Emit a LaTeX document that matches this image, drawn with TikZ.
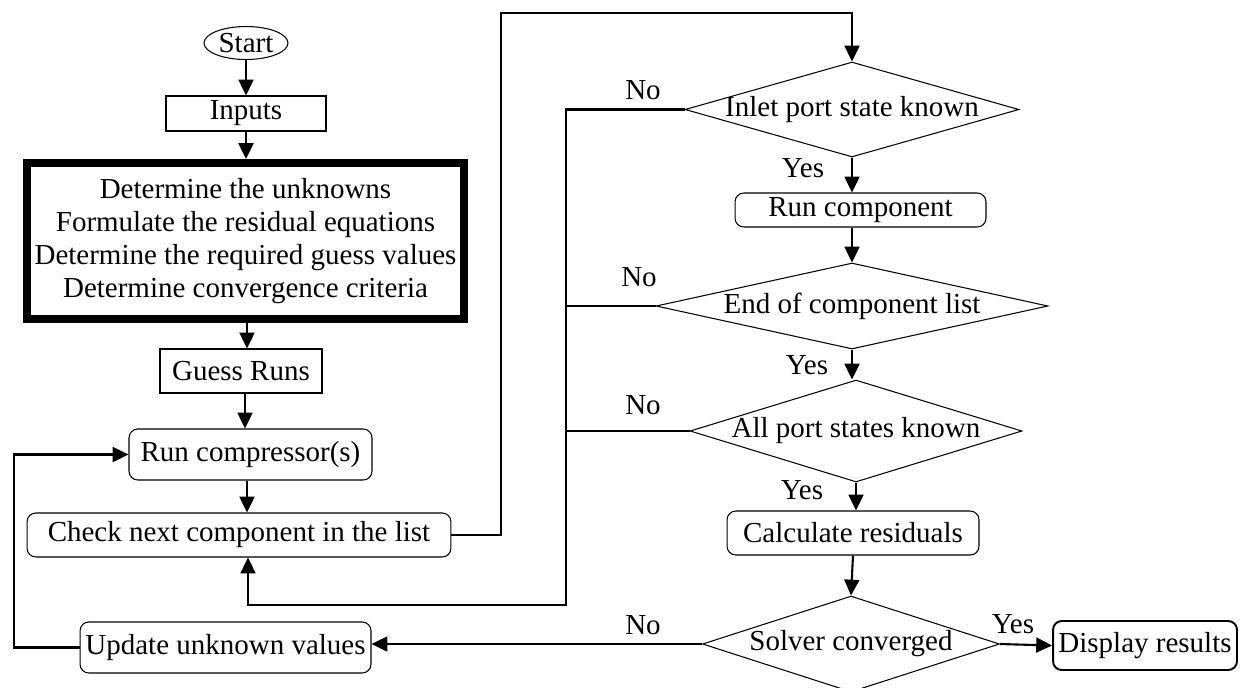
\documentclass[tikz,border=0pt]{standalone}
\usepackage{fontspec}
\setmainfont{Liberation Serif}
\usetikzlibrary{shapes.geometric,arrows.meta}

\newcommand{\dtext}[1]{\makebox[0pt]{#1}}

\begin{document}
\begin{tikzpicture}[x=0.02cm,y=-0.02cm,line width=1.2pt,
    font=\fontsize{16.5}{18.7}\selectfont,
    >={Triangle[length=9pt,width=8.5pt]},
    box/.style={draw,line width=0.6pt,inner sep=0pt},
    rbox/.style={box,rounded corners=5pt},
    dia/.style={box,diamond}]
    \useasboundingbox (0,0) rectangle (1243,687);

    % Define the positions of the nodes
    \node[box,ellipse,minimum width=1.68cm,minimum height=0.66cm] (start) at (246,43) {Start};
    \node[box,minimum width=3.2cm,minimum height=0.7cm] (inputs) at (246,113.5) {Inputs};
    \node[draw,line width=0.16cm,minimum width=8.74cm,minimum height=3.12cm,align=center] (prep) at (245.5,241)
        {Determine the unknowns\\Formulate the residual equations\\Determine the required guess values\\Determine convergence criteria};
    \node[box,minimum width=3.24cm,minimum height=0.88cm] (guess) at (241,371) {Guess Runs};
    \node[rbox,minimum width=4.86cm,minimum height=1.02cm] (compr) at (250.5,454.5) {Run compressor(s)};
    \node[rbox,minimum width=8.48cm,minimum height=0.88cm] (check) at (239,535) {Check next component in the list};
    \node[rbox,minimum width=5.82cm,minimum height=1.02cm] (update) at (225.5,647.5) {Update unknown values};

    \node[dia,minimum width=6.68cm,minimum height=1.9cm] (inlet) at (852,109.5) {\dtext{Inlet port state known}};
    \node[rbox,minimum width=5.02cm,minimum height=0.68cm] (runcomp) at (860.5,210) {Run component};
    \node[dia,minimum width=7.84cm,minimum height=1.72cm] (endlist) at (852,306) {\dtext{End of component list}};
    \node[dia,minimum width=6.64cm,minimum height=2.04cm] (allports) at (856,431) {\dtext{All port states known}};
    \node[rbox,minimum width=5.04cm,minimum height=0.88cm] (calc) at (853,533) {Calculate residuals};
    \node[dia,minimum width=5.94cm,minimum height=1.92cm] (solver) at (851,644) {\dtext{Solver converged}};
    \node[rbox,line width=1.1pt,minimum width=3.68cm,minimum height=0.98cm] (display) at (1145,645.5) {Display results};

    \node (no1) at (643,90) {No};
    \node (yes1) at (803,168) {Yes};
    \node (no2) at (639,277) {No};
    \node (yes2) at (807,365) {Yes};
    \node (no3) at (643,405) {No};
    \node (yes3) at (802,490) {Yes};
    \node (no4) at (643,625) {No};
    \node (yes4) at (1013,624) {Yes};

    \coordinate (looptop) at (501,13);
    \coordinate (collbot) at (566,605);
    \coordinate (loopleft) at (14,454.5);

    % Draw the edges
    \draw[->] (start.south) -- (start.south |- inputs.north);
    \draw[->] (inputs.south) -- (inputs.south |- prep.north);
    \draw[->] ([xshift=0.03cm]prep.south) -- ([xshift=0.03cm]prep.south |- guess.north);
    \draw[->] ([xshift=0.08cm]guess.south) -- ([xshift=0.08cm]guess.south |- compr.north);
    \draw[->] ([xshift=-0.07cm]compr.south) -- ([xshift=-0.07cm]compr.south |- check.north);

    \draw[->] (check.east) -| (looptop) -| (inlet.north);
    \draw[->] (inlet.south) -- (inlet.south |- runcomp.north);
    \draw[->] (runcomp.south -| endlist.north) -- (endlist.north);
    \draw[->] (endlist.south) -- (endlist.south |- allports.north);
    \draw[->] (allports.south) -- (allports.south |- calc.north);
    \draw[->] (calc.south) -- (solver.north);
    \draw[->] (solver.east) -- (display.west);

    \draw[->] (inlet.west) -| (collbot) -| ([xshift=0.18cm]check.south);
    \draw (endlist.west) -- (endlist.west -| collbot);
    \draw (allports.west) -- (allports.west -| collbot);
    \draw[->] (solver.west) -- (solver.west -| update.east);
    \draw[->] (update.west) -| (loopleft) -- (compr.west);
\end{tikzpicture}
\end{document}
